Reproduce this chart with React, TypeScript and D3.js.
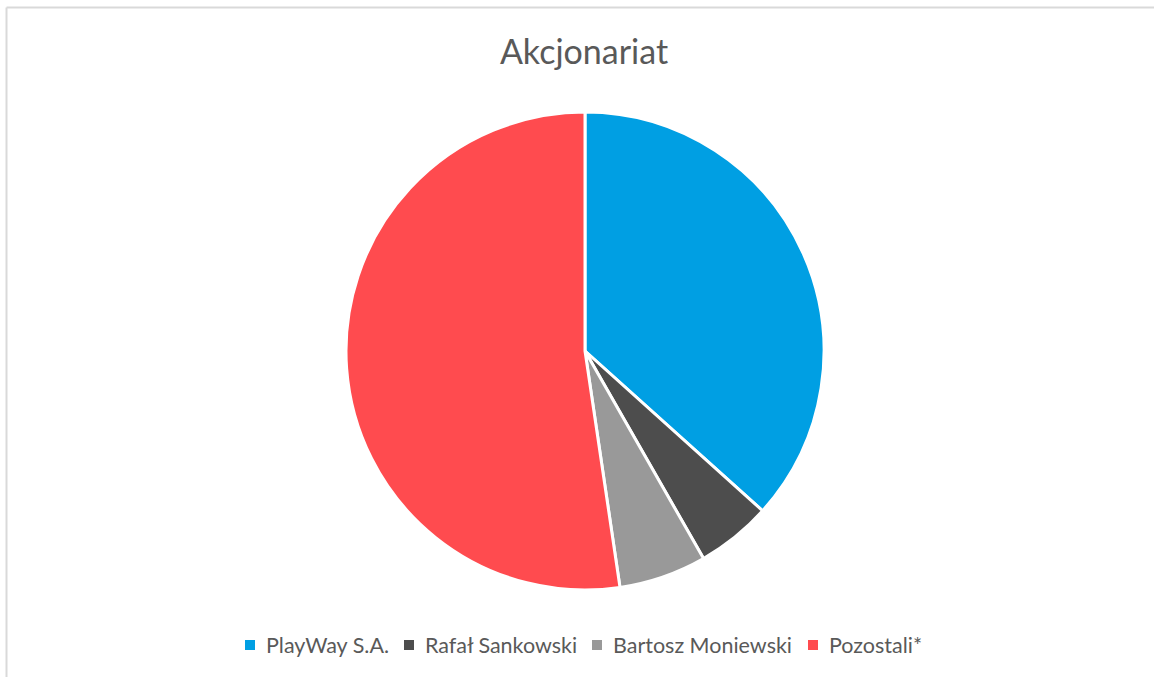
import React from "react";
import * as d3 from "d3";

const categories = ["PlayWay S.A.", "Rafał Sankowski", "Bartosz Moniewski", "Pozostali*"];
const values = [36.66, 5.08, 5.92, 52.34];
const colors = ["#009FE3", "#4D4D4D", "#999999", "#FF4B4F"];
const title = "Akcjonariat";

export default function App() {
  const W = 1154, H = 677;
  const cx = 585, cy = 351, r = 239;
  const pie = d3.pie<number>().sort(null).value((d) => d)(values);
  const arc = d3.arc<d3.PieArcDatum<number>>().innerRadius(0).outerRadius(r);

  const legendX = [245, 404, 592, 808];
  const legendY = 645;

  return (
    <svg width={W} height={H} style={{ position: "absolute", left: 0, top: 0, background: "#fff" }}
      fontFamily="Lato, 'Open Sans', sans-serif">
      <rect x={0} y={0} width={W} height={H} fill="#fff" />
      <line x1={6.5} y1={7.5} x2={W} y2={7.5} stroke="#d9d9d9" strokeWidth={2} />
      <line x1={6.5} y1={7.5} x2={6.5} y2={H} stroke="#d9d9d9" strokeWidth={2} />
      <text x={584} y={64} textAnchor="middle" fontSize={34} fill="#595959">{title}</text>
      <g transform={`translate(${cx},${cy})`}>
        {pie.map((p, i) => (
          <path key={i} d={arc(p) || ""} fill={colors[i]} stroke="#fff" strokeWidth={3} strokeLinejoin="round" />
        ))}
      </g>
      {categories.map((c, i) => (
        <g key={c} transform={`translate(${legendX[i]},${legendY})`}>
          <rect x={0} y={-5} width={10} height={10} fill={colors[i]} />
          <text x={21} y={8} fontSize={21.5} fill="#595959">{c}</text>
        </g>
      ))}
    </svg>
  );
}
